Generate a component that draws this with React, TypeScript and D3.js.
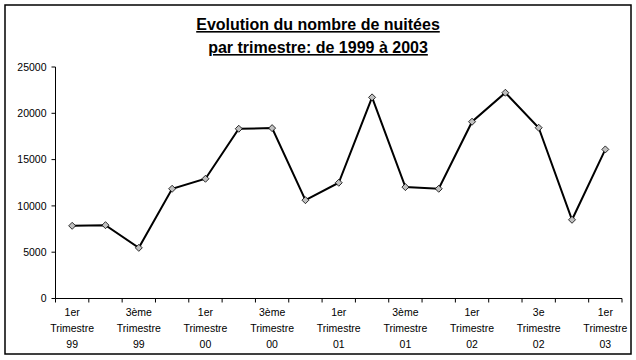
import React from "react";
import * as d3 from "d3";

const categories: string[][] = [
  ["1er", "Trimestre", "99"],
  ["2ème", "Trimestre", "99"],
  ["3ème", "Trimestre", "99"],
  ["4ème", "Trimestre", "99"],
  ["1er", "Trimestre", "00"],
  ["2ème", "Trimestre", "00"],
  ["3ème", "Trimestre", "00"],
  ["4ème", "Trimestre", "00"],
  ["1er", "Trimestre", "01"],
  ["2ème", "Trimestre", "01"],
  ["3ème", "Trimestre", "01"],
  ["4ème", "Trimestre", "01"],
  ["1er", "Trimestre", "02"],
  ["2ème", "Trimestre", "02"],
  ["3e", "Trimestre", "02"],
  ["4ème", "Trimestre", "02"],
  ["1er", "Trimestre", "03"],
];

const values: number[] = [
  7850, 7920, 5470, 11850, 12930, 18330, 18400, 10620, 12500,
  21720, 12030, 11850, 19090, 22220, 18440, 8500, 16100,
];

const yTicks: number[] = [0, 5000, 10000, 15000, 20000, 25000];

const titleLines: string[] = [
  "Evolution du nombre de nuitées",
  "par trimestre: de 1999 à 2003",
];

export default function App() {
  const W = 636;
  const H = 360;
  const left = 55.5;
  const right = 622;
  const top = 67;
  const bottom = 298.5;

  const x = d3
    .scaleBand<number>()
    .domain(d3.range(categories.length))
    .range([left, right])
    .paddingInner(0)
    .paddingOuter(0);
  const y = d3.scaleLinear().domain([0, 25000]).range([bottom, top]);

  const cx = (i: number) => (x(i) as number) + x.bandwidth() / 2;

  const line = d3
    .line<number>()
    .x((_, i) => cx(i))
    .y((d) => y(d));

  const font = "Arial, 'Liberation Sans', sans-serif";
  const boundaries = d3.range(categories.length + 1).map((i) =>
    i < categories.length ? (x(i) as number) : right
  );

  const diamond = (px: number, py: number) => {
    const r = 3.5;
    return `M${px},${py - r}L${px + r},${py}L${px},${py + r}L${px - r},${py}Z`;
  };

  return (
    <svg
      width={W}
      height={H}
      style={{ position: "absolute", left: 0, top: 0, background: "#fff" }}
      fontFamily={font}
    >
      <rect x={0} y={0} width={W} height={H} fill="#fff" />
      <rect x={5} y={5} width={626} height={349} fill="none" stroke="#000" strokeWidth={1.5} />
      {titleLines.map((t, i) => (
        <text
          key={i}
          x={318}
          y={30 + i * 23}
          textAnchor="middle"
          fontSize={16}
          fontWeight="bold"
          textDecoration="underline"
        >
          {t}
        </text>
      ))}
      {/* y axis */}
      <line x1={left} x2={left} y1={top} y2={bottom} stroke="#000" strokeWidth={1} />
      {yTicks.map((t) => (
        <g key={t}>
          <line x1={left - 4} x2={left} y1={y(t)} y2={y(t)} stroke="#000" />
          <text
            x={left - 9}
            y={y(t)}
            dy="0.35em"
            textAnchor="end"
            fontSize={10.5}
          >
            {t}
          </text>
        </g>
      ))}
      {/* x axis */}
      <line x1={left} x2={right} y1={bottom} y2={bottom} stroke="#000" strokeWidth={1} />
      {boundaries.map((b, i) => (
        <line key={i} x1={b} x2={b} y1={bottom} y2={bottom + 4} stroke="#000" />
      ))}
      {categories.map((c, i) =>
        i % 2 === 0 ? (
          <g key={i}>
            {c.map((s, j) => (
              <text
                key={j}
                x={cx(i)}
                y={316 + j * 16}
                textAnchor="middle"
                fontSize={10.5}
              >
                {s}
              </text>
            ))}
          </g>
        ) : null
      )}
      <path d={line(values) ?? ""} fill="none" stroke="#000" strokeWidth={2} />
      {values.map((v, i) => (
        <path key={i} d={diamond(cx(i), y(v))} fill="#c0c0c0" stroke="#000" strokeWidth={0.8} />
      ))}
    </svg>
  );
}
